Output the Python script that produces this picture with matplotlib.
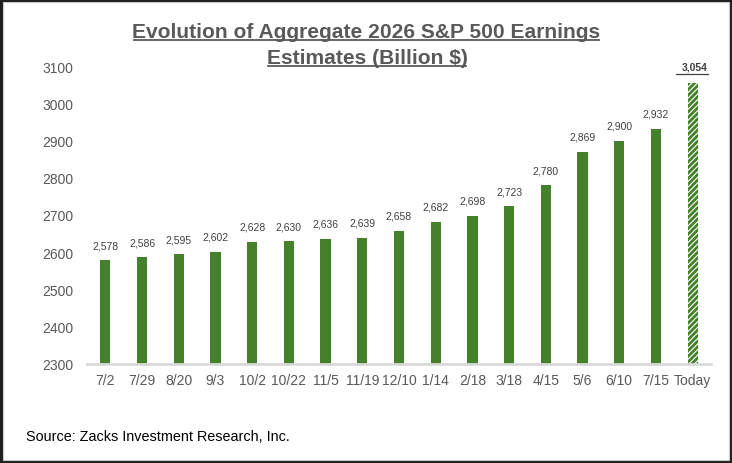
import matplotlib
matplotlib.use("Agg")
import matplotlib.pyplot as plt
from matplotlib.patches import Rectangle

plt.rcParams['font.family'] = ['Liberation Sans', 'DejaVu Sans']
plt.rcParams['hatch.linewidth'] = 2.0

categories = ["7/2", "7/29", "8/20", "9/3", "10/2", "10/22", "11/5", "11/19", "12/10",
              "1/14", "2/18", "3/18", "4/15", "5/6", "6/10", "7/15", "Today"]
values = [2578, 2586, 2595, 2602, 2628, 2630, 2636, 2639, 2658,
          2682, 2698, 2723, 2780, 2869, 2900, 2932, 3054]
yticks = [2300, 2400, 2500, 2600, 2700, 2800, 2900, 3000, 3100]

green = "#44812a"
gray = "#595959"
W, H = 732, 464

fig = plt.figure(figsize=(W / 100, H / 100), dpi=100, facecolor="#1f1f1f")

# frame: dark outer border, light-gray inner line, white interior
fig.add_artist(Rectangle((2.5 / W, 3.5 / H), 726 / W, 458 / H, transform=fig.transFigure,
                         facecolor="white", edgecolor="#c8c8c8", lw=0.8, zorder=-1))

ax = fig.add_axes([87 / W, 1 - 365 / H, 624 / W, 298 / H])
ax.patch.set_alpha(0)

x = list(range(len(categories)))
ax.bar(x[:-1], values[:-1], width=0.28, color=green)
ax.bar(x[-1], values[-1], width=0.28, color="white", edgecolor=green,
       hatch="//////", linewidth=0)

for i, v in enumerate(values):
    if i == len(values) - 1:
        ax.text(i + 0.05, v + 30, f"{v:,}", ha="center", va="bottom", fontsize=7.5,
                color="#404040", fontweight="bold")
        ax.plot([i - 0.45, i + 0.42], [v + 24, v + 24], color="#404040", lw=0.9,
                clip_on=False)
    else:
        ax.text(i, v + 27, f"{v:,}", ha="center", va="bottom", fontsize=7.5,
                color="#404040")

ax.set_xlim(-0.5, len(categories) - 0.5)
ax.set_ylim(2300, 3100)
ax.set_yticks(yticks)
ax.set_xticks(x)
ax.set_xticklabels(categories)
ax.tick_params(axis='both', length=0, labelsize=10, colors=gray)
ax.tick_params(axis='y', pad=10)
ax.tick_params(axis='x', pad=6.5)
for s in ["top", "right", "left"]:
    ax.spines[s].set_visible(False)
ax.spines["bottom"].set_color("#d9d9d9")
ax.spines["bottom"].set_linewidth(2)

fig.text(366 / W, 1 - 38.5 / H, "Evolution of Aggregate 2026 S&P 500 Earnings", ha="center",
         va="baseline", fontsize=15.1, fontweight="bold", color=gray)
fig.text(367 / W, 1 - 64 / H, "Estimates (Billion $)", ha="center",
         va="baseline", fontsize=15.1, fontweight="bold", color=gray)
# underlines
fig.add_artist(plt.Line2D([134 / W, 599 / W], [1 - 41 / H, 1 - 41 / H], color=gray, lw=1.3,
                          transform=fig.transFigure))
fig.add_artist(plt.Line2D([268 / W, 466 / W], [1 - 67 / H, 1 - 67 / H], color=gray, lw=1.3,
                          transform=fig.transFigure))

fig.text(26 / W, 1 - 437 / H, "Source: Zacks Investment Research, Inc.", ha="left",
         va="center", fontsize=10.4, color="black")

fig.savefig("out.png", dpi=100, facecolor=fig.get_facecolor())
